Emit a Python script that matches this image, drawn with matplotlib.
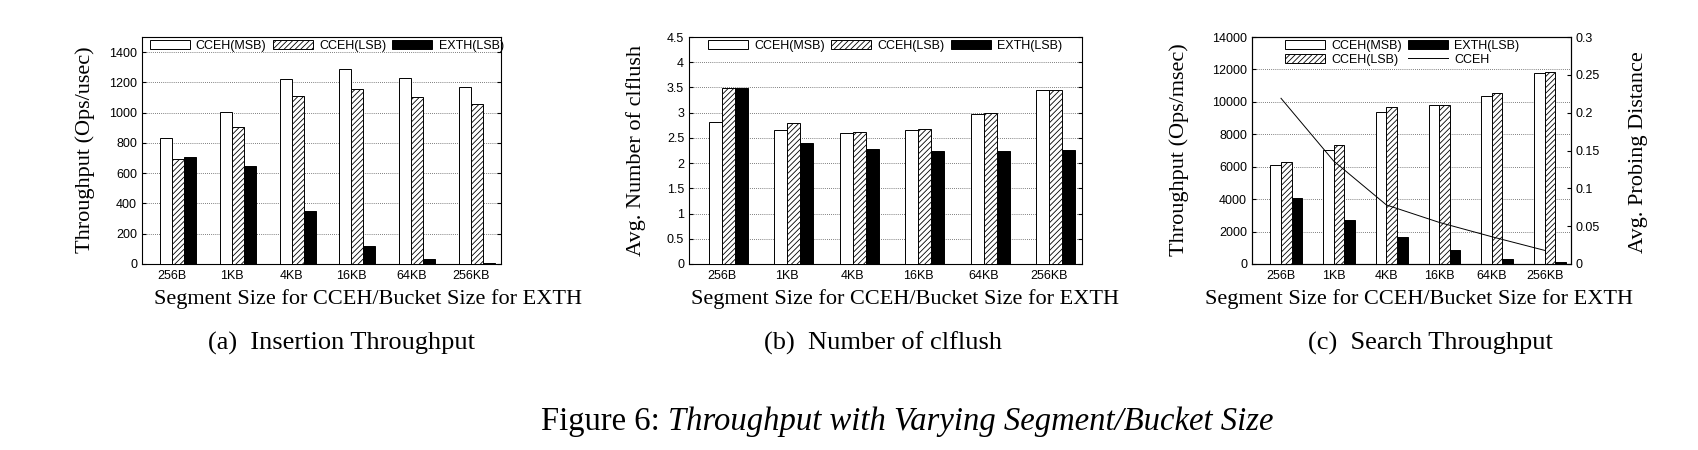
import numpy as np
import matplotlib
matplotlib.use('Agg')
import matplotlib.pyplot as plt
from matplotlib.lines import Line2D
from matplotlib.patches import Patch

sizes = ['256B', '1KB', '4KB', '16KB', '64KB', '256KB']
series = ['CCEH(MSB)', 'CCEH(LSB)', 'EXTH(LSB)']

# (a) insertion throughput, Ops/usec
ins_msb = [835, 1005, 1225, 1290, 1228, 1172]
ins_lsb = [695, 908, 1108, 1158, 1105, 1058]
ins_exth = [705, 645, 348, 118, 32, 8]

# (b) avg number of clflush
cf_msb = [2.82, 2.65, 2.59, 2.66, 2.97, 3.44]
cf_lsb = [3.49, 2.79, 2.62, 2.67, 2.99, 3.44]
cf_exth = [3.49, 2.39, 2.28, 2.25, 2.25, 2.26]

# (c) search throughput, Ops/msec, and probing distance
se_msb = [6130, 7050, 9380, 9830, 10370, 11760]
se_lsb = [6260, 7310, 9680, 9790, 10520, 11820]
se_exth = [4060, 2700, 1680, 870, 300, 100]
probe = [0.219, 0.136, 0.078, 0.055, 0.036, 0.018]

plt.rcParams['font.family'] = ['Liberation Sans', 'DejaVu Sans']
plt.rcParams['hatch.linewidth'] = 0.6
serif = 'Liberation Serif'
TICK = 9
LAB = 16
XLAB = 'Segment Size for CCEH/Bucket Size for EXTH'

W, H = 1698, 450
fig = plt.figure(figsize=(W / 100, H / 100), dpi=100)

def px_axes(x0, x1, y0, y1):
    return fig.add_axes([x0 / W, 1 - y1 / H, (x1 - x0) / W, (y1 - y0) / H])

def px_text(x, y, s, **kw):
    return fig.text(x / W, 1 - y / H, s, family=serif, **kw)

styles = [dict(facecolor='white', edgecolor='black'),
          dict(facecolor='white', edgecolor='black', hatch='//////'),
          dict(facecolor='black', edgecolor='black')]

def draw_bars(ax, vals, xlo):
    x = np.arange(len(sizes))
    w = 0.2
    for k, v in enumerate(vals):
        ax.bar(x - 0.1 + k * w, v, w, linewidth=0.7, zorder=3, **styles[k])
    ax.set_xticks(x)
    ax.set_xticklabels(sizes, fontsize=TICK)
    ax.set_xlim(xlo, 5.5)
    ax.tick_params(axis='x', length=0, pad=4)
    ax.tick_params(axis='y', direction='in', labelsize=TICK, length=3, right=True)
    ax.grid(axis='y', linestyle=(0, (1, 1.5)), color='#555555', linewidth=0.6, zorder=0)
    ax.set_axisbelow(True)

handles = [Patch(linewidth=0.7, **s) for s in styles]
leg_kw = dict(frameon=False, fontsize=TICK, handlelength=3.2, handleheight=0.7,
              columnspacing=0.5, handletextpad=0.5, borderaxespad=0.2)

# (a)
ax1 = px_axes(142, 501, 37, 264)
draw_bars(ax1, [ins_msb, ins_lsb, ins_exth], -0.5)
ax1.set_ylim(0, 1500)
ax1.set_yticks(range(0, 1401, 200))
ax1.legend(handles, series, ncol=3, loc='upper left', bbox_to_anchor=(0.0, 1.02), **leg_kw)
px_text(85, 150, 'Throughput (Ops/usec)', fontsize=LAB, rotation=90, ha='center', va='center')
px_text(368, 304, XLAB, fontsize=LAB, ha='center', va='baseline')

# (b)
ax2 = px_axes(689, 1082, 37, 264)
draw_bars(ax2, [cf_msb, cf_lsb, cf_exth], -0.5)
ax2.set_ylim(0, 4.5)
ax2.set_yticks(np.arange(0, 4.51, 0.5))
ax2.set_yticklabels(['0', '0.5', '1', '1.5', '2', '2.5', '3', '3.5', '4', '4.5'])
ax2.legend(handles, series, ncol=3, loc='upper left', bbox_to_anchor=(0.03, 1.02), **leg_kw)
px_text(636, 151, 'Avg. Number of clflush', fontsize=LAB, rotation=90, ha='center', va='center')
px_text(905, 304, XLAB, fontsize=LAB, ha='center', va='baseline')

# (c)
ax3 = px_axes(1252, 1571, 37, 264)
draw_bars(ax3, [se_msb, se_lsb, se_exth], -0.55)
ax3.tick_params(axis='y', right=False)
ax3.set_ylim(0, 14000)
ax3.set_yticks(range(0, 14001, 2000))
ax3r = ax3.twinx()
ax3r.plot(np.arange(len(sizes)), probe, color='black', linewidth=0.7, zorder=4)
ax3r.set_ylim(0, 0.3)
ax3r.set_yticks([0, 0.05, 0.1, 0.15, 0.2, 0.25, 0.3])
ax3r.set_yticklabels(['0', '0.05', '0.1', '0.15', '0.2', '0.25', '0.3'])
ax3r.tick_params(axis='y', direction='in', labelsize=TICK, length=3)
h3 = [handles[0], handles[1], handles[2], Line2D([], [], color='black', linewidth=0.7)]
l3 = ['CCEH(MSB)', 'CCEH(LSB)', 'EXTH(LSB)', 'CCEH']
leg3 = dict(leg_kw, labelspacing=0.15)
ax3r.legend(h3, l3, ncol=2, loc='upper left', bbox_to_anchor=(0.08, 1.02), **leg3)
px_text(1179, 150, 'Throughput (Ops/msec)', fontsize=LAB, rotation=90, ha='center', va='center')
px_text(1638, 152, 'Avg. Probing Distance', fontsize=LAB, rotation=90, ha='center', va='center')
px_text(1419, 304, XLAB, fontsize=LAB, ha='center', va='baseline')

# captions
px_text(342, 343, '(a)  Insertion Throughput', fontsize=19, ha='center', va='center')
px_text(883, 343, '(b)  Number of clflush', fontsize=19, ha='center', va='center')
px_text(1430, 343, '(c)  Search Throughput', fontsize=19, ha='center', va='center')
t1 = px_text(541, 422, 'Figure 6: ', fontsize=23.5, ha='left', va='center')
fig.canvas.draw()
bb = t1.get_window_extent()
px_text(bb.x1, 422, 'Throughput with Varying Segment/Bucket Size',
        style='italic', fontsize=23.5, ha='left', va='center')

fig.savefig('out.png', dpi=100)
